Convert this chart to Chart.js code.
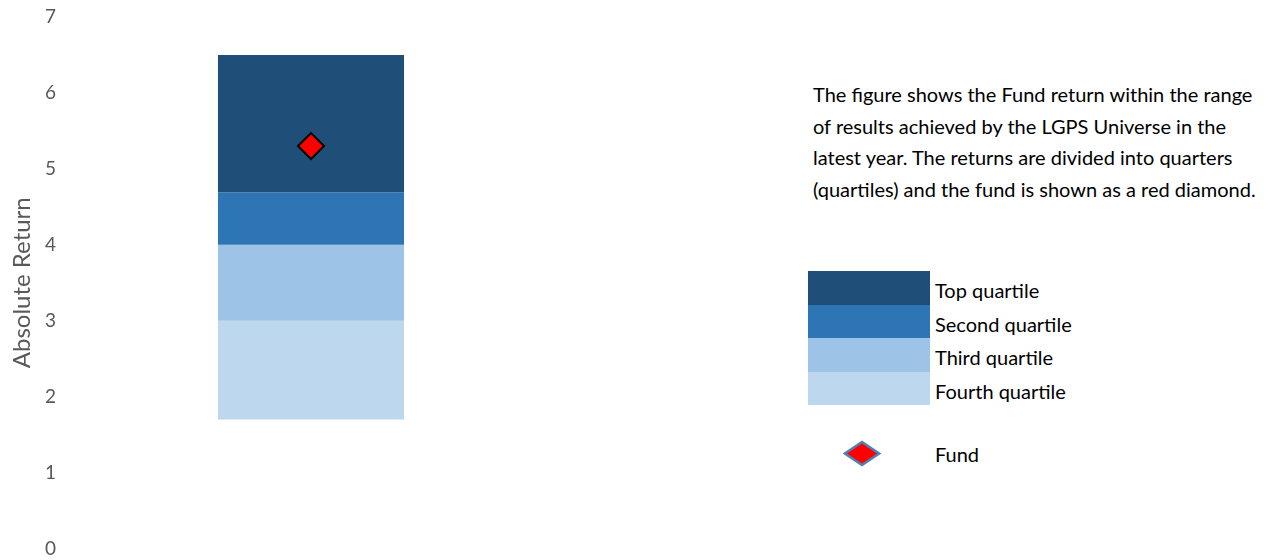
<!DOCTYPE html>
<html>
<head>
<meta charset="utf-8">
<script src="https://cdn.jsdelivr.net/npm/chart.js@4"></script>
<style>
body{margin:0;background:#fff;font-family:Lato,"Open Sans",sans-serif;}
#wrap{position:relative;width:1271px;height:560px;}
#box{position:absolute;left:0;top:0;width:552px;height:560px;}
#note{position:absolute;left:813px;top:79px;width:452px;font-size:20px;line-height:31.5px;color:#000;}
.sw{position:absolute;left:808px;width:122px;height:33.5px;}
.lab{position:absolute;left:935px;font-size:20px;color:#000;line-height:33.5px;white-space:nowrap;}
#fundIcon{position:absolute;left:843px;top:440px;}
</style>
</head>
<body>
<div id="wrap">
<div id="box"><canvas id="chart"></canvas></div>
<div id="note">The figure shows the Fund return within the range of results achieved by the LGPS Universe in the latest year. The returns are divided into quarters (quartiles) and the fund is shown as a red diamond.</div>
<div id="legend"></div>
<svg id="fundIcon" width="38" height="27"><polygon points="19,2 36,13.5 19,25 2,13.5" fill="#ff0000" stroke="#4f7fb5" stroke-width="2.5"/></svg>
<div class="lab" style="top:438px">Fund</div>
</div>
<script>
// -----------------------------
// DATA
// -----------------------------
const categories = ["Fund"];
const quartileNames = ["Top quartile","Second quartile","Third quartile","Fourth quartile"];
const quartileColors = ["#1f4e79","#2e75b6","#9dc3e6","#bdd7ee"];
// quartile ranges [from, to], top first
const quartileLow  = [4.69, 4.0, 3.0, 1.7];
const quartileHigh = [6.5, 4.69, 4.0, 3.0];
const fundReturn = [5.3];
const yTicks = [0,1,2,3,4,5,6,7];

// -----------------------------
// LEGEND (html)
// -----------------------------
const legend = document.getElementById("legend");
quartileNames.forEach((name,i)=>{
const top = 271 + i*33.5;
const sw = document.createElement("div");
sw.className = "sw";
sw.style.top = top+"px";
sw.style.background = quartileColors[i];
legend.appendChild(sw);
const lab = document.createElement("div");
lab.className = "lab";
lab.style.top = (top+3)+"px";
lab.innerText = name;
legend.appendChild(lab);
});

// -----------------------------
// CHART
// -----------------------------
const datasets = [{
type:"line",
label:"Fund",
data:fundReturn,
showLine:false,
pointStyle:"rectRot",
pointRadius:13,
pointBackgroundColor:"#ff0000",
pointBorderColor:"#000000",
pointBorderWidth:2,
order:0
}];

quartileNames.forEach((name,i)=>{
datasets.push({
type:"bar",
label:name,
data:[[quartileLow[i],quartileHigh[i]]],
backgroundColor:quartileColors[i],
borderWidth:0,
grouped:false,
barPercentage:0.386,
categoryPercentage:1,
order:1
});
});

new Chart(document.getElementById("chart"),{
data:{labels:categories,datasets:datasets},
options:{
responsive:true,
maintainAspectRatio:false,
animation:false,
layout:{autoPadding:false,padding:{top:17,bottom:11.5,left:0,right:0}},
plugins:{legend:{display:false},tooltip:{enabled:false}},
scales:{
x:{display:false},
y:{
min:0,max:7,
afterFit:(s)=>{s.width=70;},
afterBuildTicks:(s)=>{s.ticks=yTicks.map(v=>({value:v}));},
// ticks hidden, only used to push labels away from the plot
grid:{display:false,drawTicks:true,tickLength:14},
border:{display:false},
ticks:{color:"#595959",font:{family:"Lato",size:19},padding:0},
title:{display:true,text:"Absolute Return",color:"#595959",font:{family:"Lato",size:24},padding:{top:8,bottom:0}}
}
}
}
});
</script>
</body>
</html>
